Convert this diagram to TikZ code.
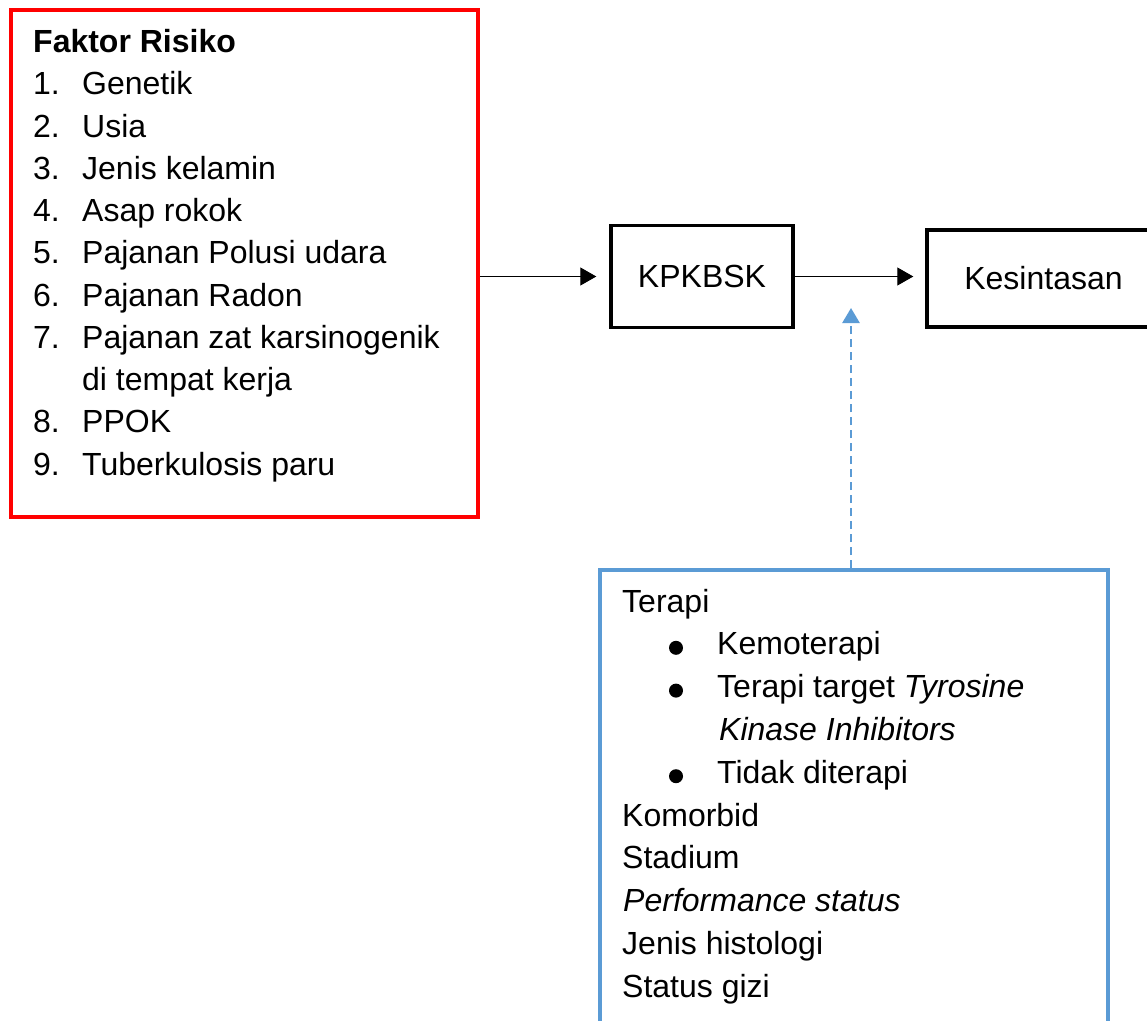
\documentclass[tikz,border=0pt]{standalone}
\usepackage{fontspec}
\setmainfont{Liberation Sans}
\usetikzlibrary{arrows.meta}
\definecolor{riskred}{HTML}{FF0000}
\definecolor{factorblue}{HTML}{5B9BD5}
\begin{document}
\begin{tikzpicture}[x=1pt,y=-1pt,
  txt/.style={anchor=base west,inner sep=0pt,font=\fontsize{32}{38}\selectfont},
  bulletdot/.style={circle,fill=black,inner sep=0pt,minimum size=14pt},
  redframe/.style={draw=riskred,line width=4pt,inner sep=0pt},
  blackframe/.style={draw=black,line width=3.4pt,inner sep=0pt,font=\fontsize{32}{38}\selectfont},
  blueframe/.style={draw=factorblue,line width=4pt,inner sep=0pt},
  flow/.style={line width=1pt,-{Triangle[length=16pt,width=18pt]}},
  effect/.style={draw=factorblue,line width=2.6pt,dash pattern=on 8pt off 5pt,
    -{Triangle[length=15pt,width=17pt,fill=factorblue]}}]
\useasboundingbox (0,0) rectangle (1147,1020);

% risk factors
\node[redframe,minimum width=467pt,minimum height=507pt] (risk) at (244.5,263.5) {};
\node[txt,font=\fontsize{32}{38}\selectfont\bfseries] (rtitle) at (33,52.6) {Faktor Risiko};
\foreach \n/\k/\t in {1/1/Genetik,2/2/Usia,3/3/Jenis kelamin,4/4/Asap rokok,
    5/5/Pajanan Polusi udara,6/6/Pajanan Radon,7/7/Pajanan zat karsinogenik,
    8/9/PPOK,9/10/Tuberkulosis paru}{
  \node[txt] (rnum\n) at (33,52.6+42.24*\k) {\n.};
  \node[txt] (ritem\n) at (82,52.6+42.24*\k) {\t};
}
\node[txt] (ritem7b) at (82,52.6+42.24*8) {di tempat kerja};

% outcome chain
\node[blackframe,minimum width=182pt,minimum height=102pt] (kp) at (702,276.5) {KPKBSK};
\node[blackframe,minimum width=233pt,minimum height=97pt] (ks) at (1043.5,278.5) {Kesintasan\hspace{20pt}};

\coordinate (kpin) at ([xshift=-13pt]kp.west);
\coordinate (ksin) at ([xshift=-12pt]ks.west |- kp.west);
\draw[flow] (risk.east |- kp.west) -- (kpin);
\draw[flow] (kp.east) -- (ksin);

% modifying factors
\node[blueframe,minimum width=508pt,minimum height=480pt,anchor=north west] (mod) at (598,568) {};
\node[txt] (m1) at (622,612) {Terapi};
\foreach \k/\t in {1/Kemoterapi,2/Terapi target \textit{Tyrosine},4/Tidak diterapi}{
  \node[bulletdot] (b\k) at (676,605+42.8*\k) {};
  \node[txt] (m\k b) at (717,612+42.8*\k) {\t};
}
\node[txt] (m3b) at (719,612+42.8*3) {\textit{Kinase Inhibitors}};
\node[txt] (m5) at (622,612+42.8*5) {Komorbid};
\node[txt] (m6) at (622,612+42.8*6) {Stadium};
\node[txt] (m7) at (623,612+42.8*7) {\textit{Performance status}};
\node[txt] (m8) at (622,612+42.8*8) {Jenis histologi};
\node[txt] (m9) at (622,612+42.8*9) {Status gizi};

\coordinate (modtip) at (851,308);
\draw[effect] (mod.north -| modtip) -- (modtip);
\end{tikzpicture}
\end{document}
